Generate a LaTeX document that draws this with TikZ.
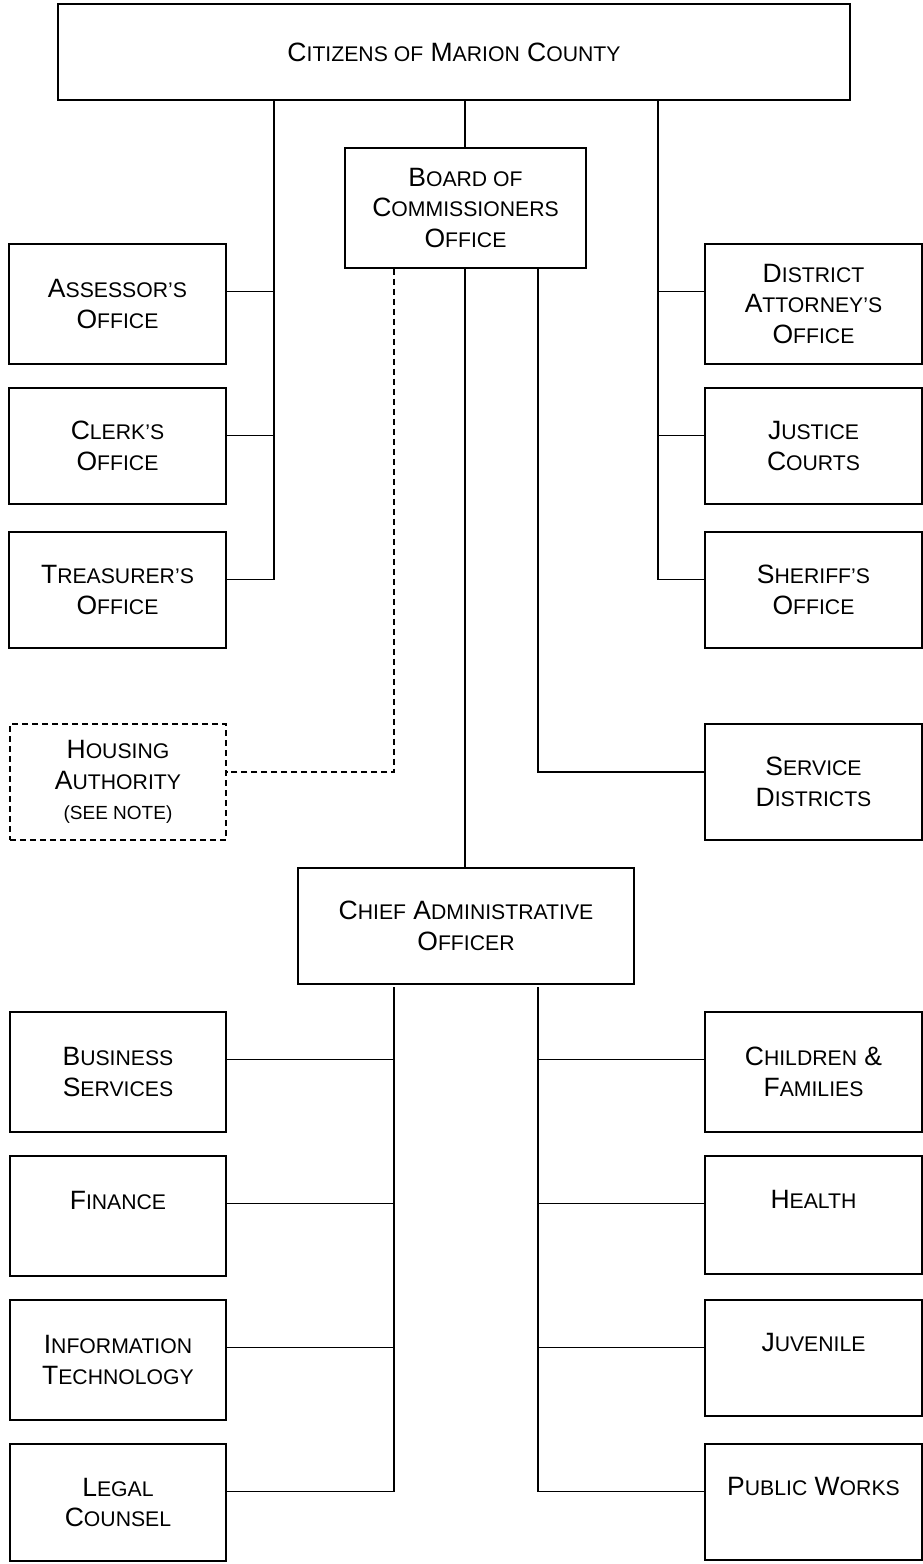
\documentclass[tikz,border=0pt]{standalone}
\usepackage{fontspec}
\setmainfont{Liberation Sans}
\newcommand\sm[1]{{\fontsize{21.2pt}{30.5pt}\selectfont #1}}
\newcommand\smaller[1]{{\fontsize{19pt}{30.5pt}\selectfont #1}}
\begin{document}
\begin{tikzpicture}[x=1pt,y=-1pt,
  box/.style={draw, line width=1.4pt, inner sep=0pt, align=center,
    font=\fontsize{26.5pt}{30.5pt}\selectfont},
  conn/.style={line width=1.4pt},
  dconn/.style={line width=1.4pt, dash pattern=on 6pt off 4pt}]
\useasboundingbox (0,0) rectangle (923,1564);
% top
\node[box, minimum width=792pt, minimum height=96pt] (top) at (454,52) {C\sm{ITIZENS OF} M\sm{ARION} C\sm{OUNTY}};
\node[box, minimum width=241pt, minimum height=120pt] (board) at (465.5,208) {B\sm{OARD OF}\\C\sm{OMMISSIONERS}\\O\sm{FFICE}};
% left column upper
\node[box, minimum width=217pt, minimum height=120pt] (assessor) at (117.5,304) {A\sm{SSESSOR'S}\\O\sm{FFICE}};
\node[box, minimum width=217pt, minimum height=116pt] (clerk) at (117.5,446) {C\sm{LERK'S}\\O\sm{FFICE}};
\node[box, minimum width=217pt, minimum height=116pt] (treasurer) at (117.5,590) {T\sm{REASURER'S}\\O\sm{FFICE}};
% right column upper
\node[box, minimum width=217pt, minimum height=120pt] (da) at (813.5,304) {D\sm{ISTRICT}\\A\sm{TTORNEY'S}\\O\sm{FFICE}};
\node[box, minimum width=217pt, minimum height=116pt] (justice) at (813.5,446) {J\sm{USTICE}\\C\sm{OURTS}};
\node[box, minimum width=217pt, minimum height=116pt] (sheriff) at (813.5,590) {S\sm{HERIFF'S}\\O\sm{FFICE}};
% housing & service
\node[box, dash pattern=on 6pt off 4pt, minimum width=216pt, minimum height=116pt] (housing) at (118,782) {H\sm{OUSING}\\A\sm{UTHORITY}\\\smaller{(SEE NOTE)}};
\node[box, minimum width=217pt, minimum height=116pt] (service) at (813.5,782) {S\sm{ERVICE}\\D\sm{ISTRICTS}};
% CAO
\node[box, minimum width=336pt, minimum height=116pt] (cao) at (466,926) {C\sm{HIEF} A\sm{DMINISTRATIVE}\\O\sm{FFICER}};
% lower left
\node[box, minimum width=216pt, minimum height=120pt] (business) at (118,1072) {B\sm{USINESS}\\S\sm{ERVICES}};
\node[box, minimum width=216pt, minimum height=120pt] (finance) at (118,1216) {F\sm{INANCE}\\~};
\node[box, minimum width=216pt, minimum height=120pt] (it) at (118,1360) {I\sm{NFORMATION}\\T\sm{ECHNOLOGY}};
\node[box, minimum width=216pt, minimum height=117pt] (legal) at (118,1502.5) {L\sm{EGAL}\\C\sm{OUNSEL}};
% lower right
\node[box, minimum width=217pt, minimum height=120pt] (children) at (813.5,1072) {C\sm{HILDREN} \&\\F\sm{AMILIES}};
\node[box, minimum width=217pt, minimum height=118pt] (health) at (813.5,1215) {H\sm{EALTH}\\~};
\node[box, minimum width=217pt, minimum height=116pt] (juvenile) at (813.5,1358) {J\sm{UVENILE}\\~};
\node[box, minimum width=217pt, minimum height=116pt] (works) at (813.5,1502) {P\sm{UBLIC} W\sm{ORKS}\\~};
% bus coordinates
\coordinate (lbus) at (274,100);
\coordinate (rbus) at (658,100);
\coordinate (mbus) at (465,100);
\coordinate (sj) at (538,772);
\coordinate (hj) at (394,772);
\coordinate (cl) at (394,987);
\coordinate (cr) at (538,987);
% top connectors
\draw[conn] (top.south -| lbus) |- ([yshift=-48pt]treasurer.north east);
\draw[conn] ([yshift=-48pt]assessor.north east) -- ([yshift=-48pt]assessor.north east -| lbus);
\draw[conn] ([yshift=-48pt]clerk.north east) -- ([yshift=-48pt]clerk.north east -| lbus);
\draw[conn] (top.south -| rbus) |- ([yshift=-48pt]sheriff.north west);
\draw[conn] ([yshift=-48pt]da.north west) -- ([yshift=-48pt]da.north west -| rbus);
\draw[conn] ([yshift=-48pt]justice.north west) -- ([yshift=-48pt]justice.north west -| rbus);
\draw[conn] (top.south -| mbus) -- (board.north -| mbus);
% board connectors
\draw[conn] (board.south -| mbus) -- (cao.north -| mbus);
\draw[conn] (board.south -| sj) -- (sj) -- (sj -| service.west);
\draw[dconn] (board.south -| hj) -- (hj) -- (hj -| housing.east);
% CAO connectors
\draw[conn] (cl) |- ([yshift=-48pt]legal.north east);
\draw[conn] ([yshift=-48pt]business.north east) -- ([yshift=-48pt]business.north east -| cl);
\draw[conn] ([yshift=-48pt]finance.north east) -- ([yshift=-48pt]finance.north east -| cl);
\draw[conn] ([yshift=-48pt]it.north east) -- ([yshift=-48pt]it.north east -| cl);
\draw[conn] (cr) |- ([yshift=-48pt]works.north west);
\draw[conn] ([yshift=-48pt]children.north west) -- ([yshift=-48pt]children.north west -| cr);
\draw[conn] ([yshift=-48pt]health.north west) -- ([yshift=-48pt]health.north west -| cr);
\draw[conn] ([yshift=-48pt]juvenile.north west) -- ([yshift=-48pt]juvenile.north west -| cr);
\end{tikzpicture}
\end{document}
